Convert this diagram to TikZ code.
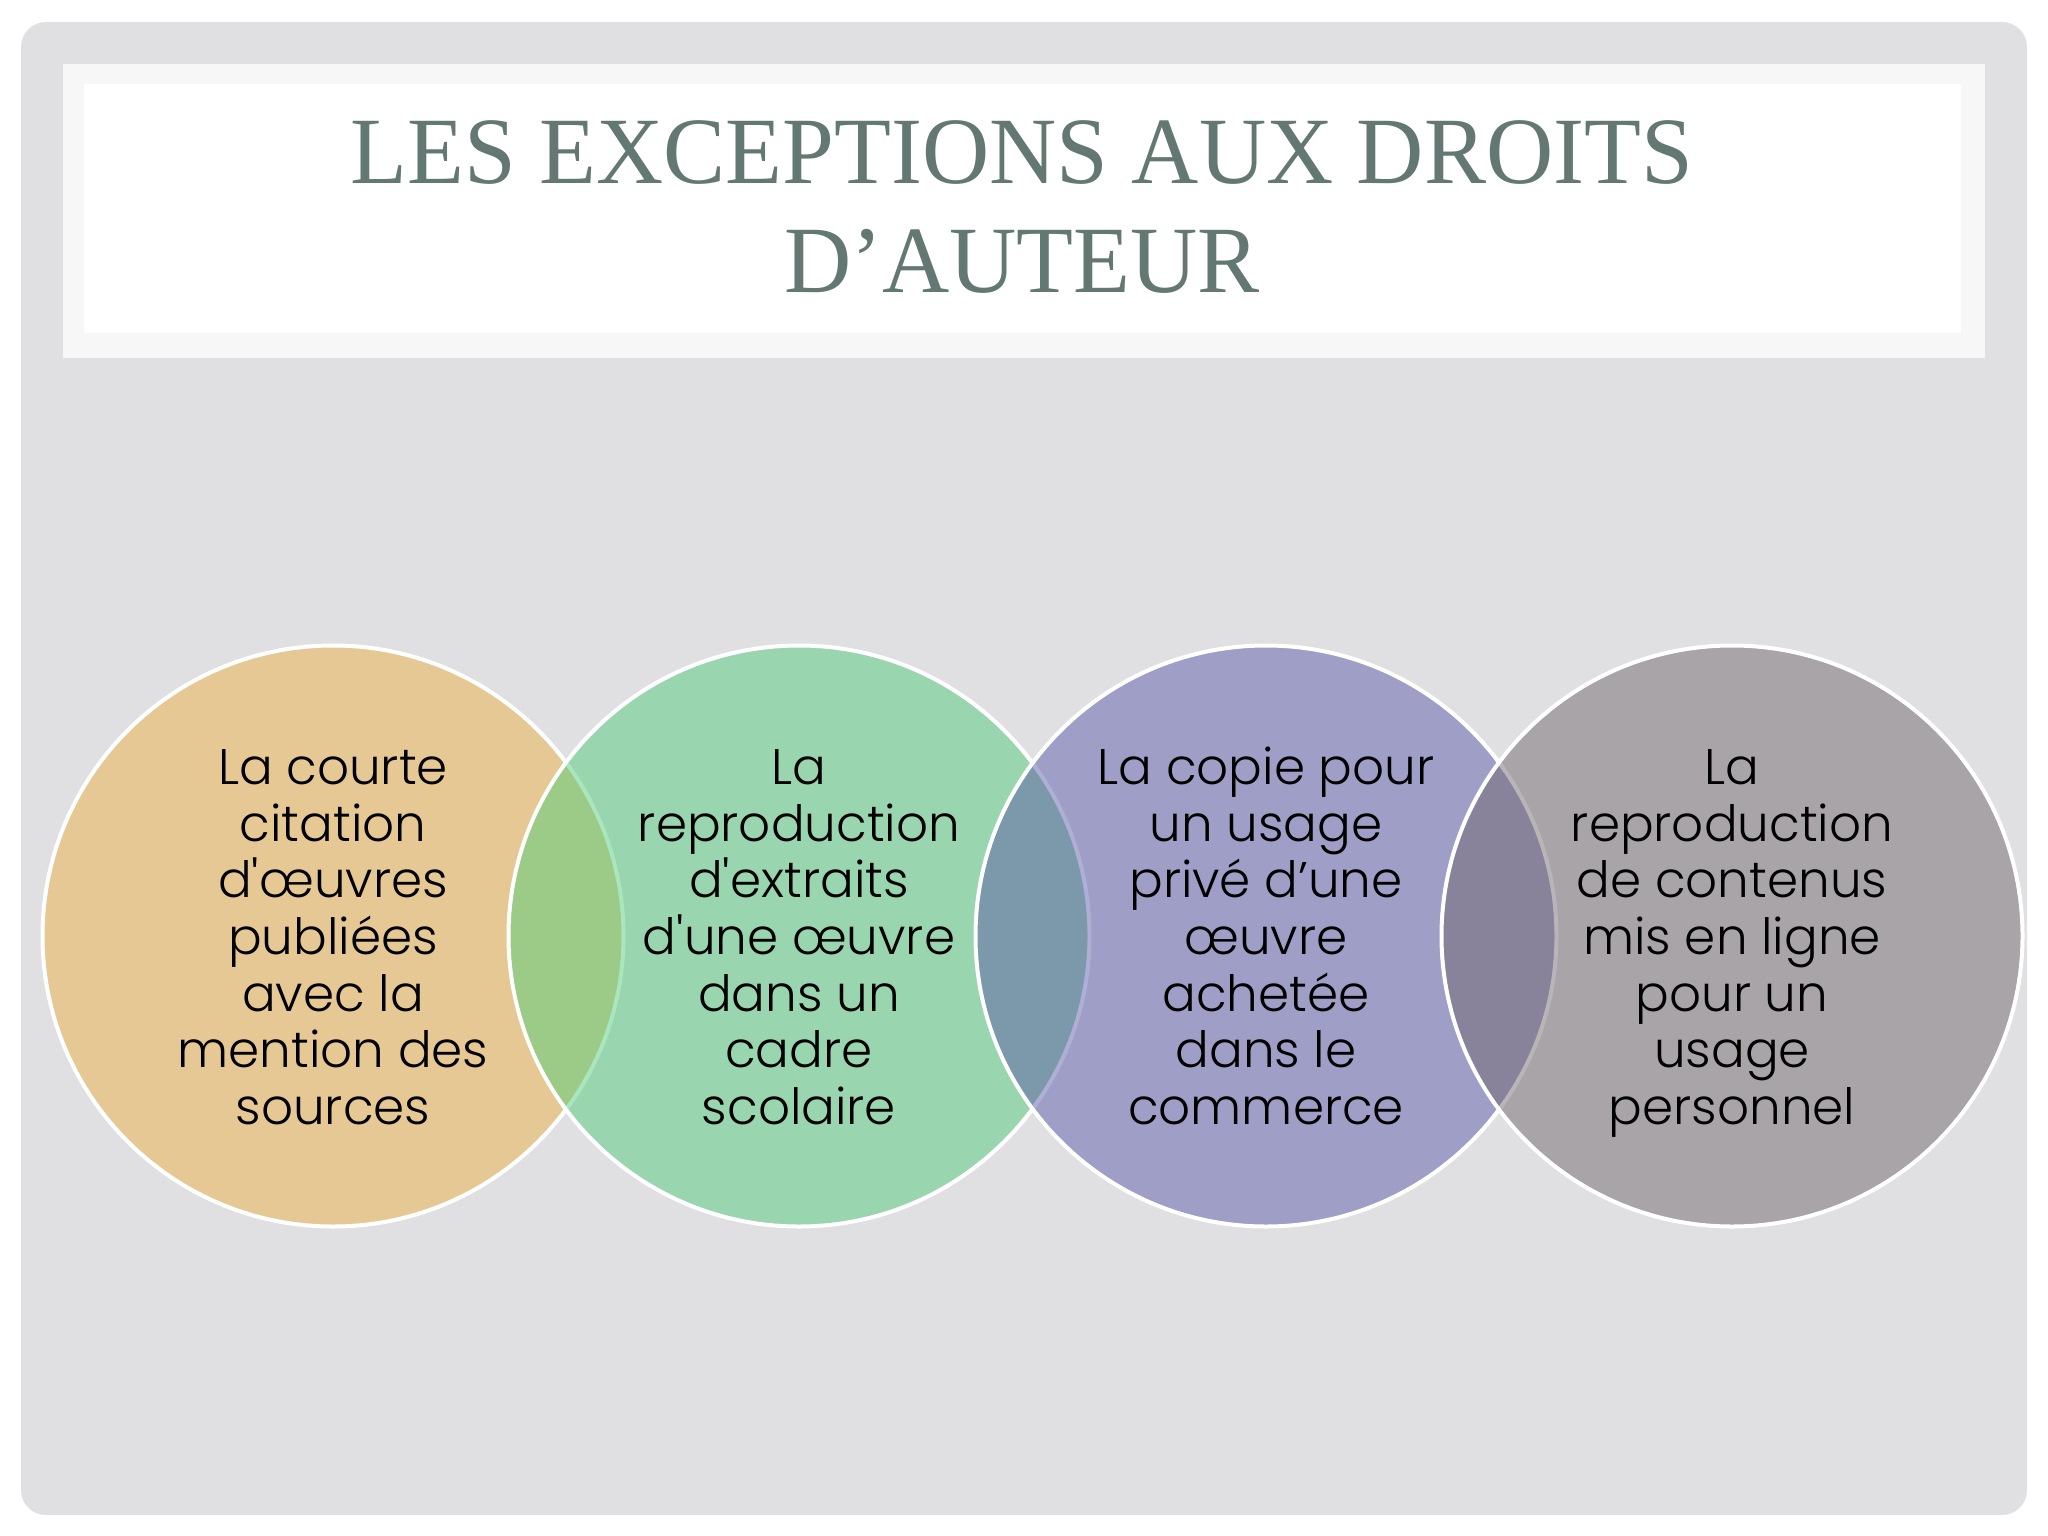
\documentclass[tikz,border=0pt]{standalone}
\usepackage{fontspec}
\setmainfont{Liberation Serif}
\newfontfamily\bodyfont{Poppins Light}[Ligatures=TeXOff]
\newfontfamily\titlefont{Liberation Serif}[FakeStretch=0.98]
\definecolor{panelgray}{RGB}{224,224,226}
\definecolor{titleouter}{RGB}{247,247,247}
\definecolor{titlecol}{RGB}{100,120,115}
\definecolor{fa}{RGB}{236,178,72}
\definecolor{fb}{RGB}{84,204,124}
\definecolor{fc}{RGB}{96,94,172}
\definecolor{fd}{RGB}{114,106,112}
\newcommand{\topstr}{\rule{0pt}{54pt}}
\tikzset{
  venn/.style={circle, inner sep=0pt, minimum size=581pt, draw=white, line width=4pt,
    fill opacity=0.5, draw opacity=1, text opacity=1, text=black, align=center,
    font=\bodyfont\fontsize{50}{56.6}\selectfont},
  titletext/.style={anchor=base, text=titlecol, inner sep=0pt,
    font=\titlefont\fontsize{95}{109}\selectfont}
}
\begin{document}
\begin{tikzpicture}[x=1pt,y=-1pt]
\useasboundingbox (0,0) rectangle (2048,1536);
\fill[white] (0,0) rectangle (2048,1536);
\fill[panelgray, rounded corners=25pt] (21,22) rectangle (2027,1515);
\fill[titleouter] (63,64) rectangle (1985,358);
\fill[white] (84,84) rectangle (1961,333);
\node[titletext] (t1) at (1022,183) {LES EXCEPTIONS AUX DROITS};
\node[titletext] (t2) at (1022,292) {D’AUTEUR};
\node[venn, fill=fa] (c1) at (333,936) {\topstr La courte\\citation\\d'œuvres\\publiées\\avec la\\mention des\\sources\strut};
\node[venn, fill=fb] (c2) at (799,936) {\topstr La\\reproduction\\d'extraits\\d'une œuvre\\dans un\\cadre\\scolaire\strut};
\node[venn, fill=fc] (c3) at (1266,936) {\topstr La copie pour\\un usage\\privé d’une\\œuvre\\achetée\\dans le\\commerce\strut};
\node[venn, fill=fd] (c4) at (1732,936) {\topstr La\\reproduction\\de contenus\\mis en ligne\\pour un\\usage\\personnel\strut};
\end{tikzpicture}
\end{document}
